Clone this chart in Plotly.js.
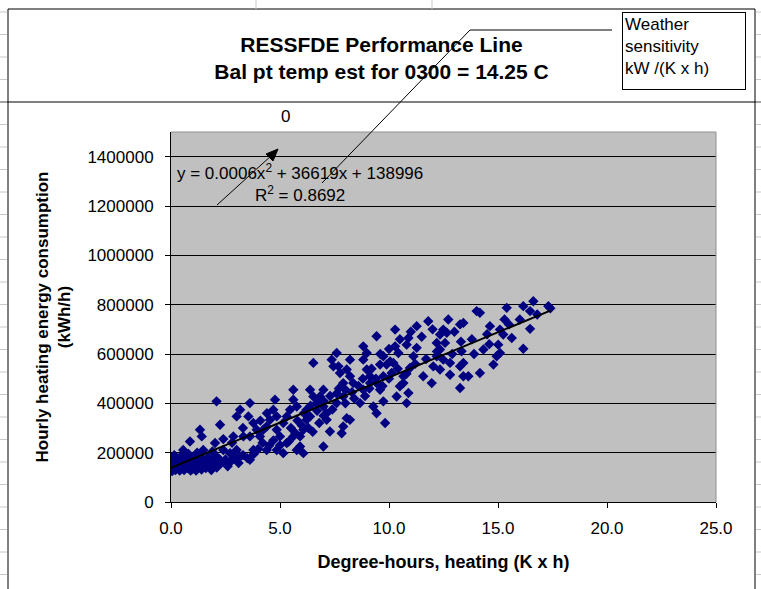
<!DOCTYPE html>
<html>
<head>
<meta charset="utf-8">
<script src="https://cdn.plot.ly/plotly-3.0.1.min.js"></script>
<style>html,body{margin:0;padding:0;background:#fff;}#chart{width:761px;height:589px;}</style>
</head>
<body>
<div id="chart"></div>
<script>
// ---- data ----
var degreeHours = [
16.62,16.16,17.31,16.47,15.40,16.47,16.16,15.63,15.09,15.24,14.63,14.02,14.17,15.01,14.94,14.79,15.09,14.17,14.33,13.41,
13.64,13.26,12.80,13.41,13.26,12.72,12.49,12.34,12.65,12.19,12.57,12.34,12.19,12.49,12.80,12.03,12.34,13.33,13.41,13.26,
11.80,11.96,11.57,11.27,10.89,10.81,11.27,11.12,10.96,10.66,10.66,10.89,10.81,10.28,10.28,10.43,10.20,10.12,10.50,10.35,
9.43,9.74,9.59,9.89,10.05,9.74,9.13,9.43,9.59,9.74,9.82,8.82,8.98,8.82,8.98,9.13,8.82,8.67,9.28,9.43,
8.21,8.06,8.21,8.36,7.90,7.75,7.90,7.60,8.21,7.90,8.06,7.83,7.60,7.37,7.45,7.68,6.53,6.99,6.83,6.68,
6.99,6.53,6.38,6.22,6.38,7.14,7.14,7.29,6.99,6.22,6.07,5.92,5.61,5.61,5.77,5.46,5.31,5.15,4.85,5.00,
5.31,5.61,5.92,6.07,5.77,4.77,4.69,4.85,4.54,4.39,4.08,4.23,3.62,3.55,3.78,3.93,3.62,3.78,3.62,4.39,
4.85,5.15,3.01,3.17,2.86,3.32,3.01,3.17,2.71,2.55,2.09,2.25,2.02,2.40,2.09,1.79,1.48,1.33,1.41,0.87,
0.56,1.02,0.72,
0.00,0.00,0.00,0.00,0.05,0.10,0.10,0.10,0.15,0.20,0.20,0.25,0.30,0.30,0.35,0.40,0.40,0.45,0.50,0.50,
0.55,0.60,0.65,0.70,0.75,0.80,0.85,0.90,0.90,1.00,1.00,1.05,1.10,1.15,1.20,1.25,1.30,1.35,1.40,1.50,
1.50,1.60,1.65,1.70,1.80,1.85,1.90,2.00,2.10,2.20,2.30,2.50,2.60,2.75,2.90,3.10,3.30,3.50,3.80,4.00,
4.20,4.50,4.70,5.00,5.40,5.70,6.00,6.30,6.50,6.80,7.00,7.40,7.60,8.00,8.40,8.80,9.20,9.60,10.00,10.50,
11.00,11.50,12.00,13.00,13.80,14.50,15.50,16.00,16.80,17.40,
5.50,5.80,6.10,6.40,6.70,7.00,7.30,7.70,8.00,8.30,8.60,8.90,9.10,9.40,9.70,10.00,10.40,10.80,11.20,11.70,
12.20,12.90,13.30,13.90,14.60,15.30,4.10,4.40,3.30,2.80,2.40,1.90,1.20,0.80
];
var energyUse = [
814000,794000,794000,774000,787000,702000,621000,665000,699000,679000,713000,774000,767000,638000,591000,557000,604000,523000,618000,510000,
510000,462000,516000,726000,720000,740000,699000,679000,686000,645000,645000,618000,591000,577000,564000,550000,537000,611000,564000,550000,
733000,482000,510000,713000,665000,638000,625000,591000,543000,510000,482000,442000,401000,699000,631000,604000,564000,523000,469000,428000,
672000,591000,557000,557000,570000,510000,510000,482000,455000,408000,320000,631000,604000,577000,537000,482000,455000,401000,387000,360000,
577000,537000,510000,482000,482000,523000,428000,401000,333000,306000,340000,279000,604000,577000,550000,550000,564000,455000,428000,401000,
387000,428000,455000,374000,347000,360000,333000,286000,225000,333000,293000,266000,455000,415000,387000,374000,347000,320000,293000,266000,
239000,266000,225000,198000,211000,415000,374000,347000,333000,306000,266000,293000,401000,347000,320000,293000,266000,211000,171000,211000,
211000,198000,347000,374000,266000,266000,211000,184000,198000,157000,408000,313000,239000,211000,184000,157000,211000,293000,266000,245000,
211000,184000,157000,
135000,150000,165000,180000,125000,142000,158000,172000,190000,130000,148000,162000,138000,176000,152000,128000,166000,185000,140000,155000,
172000,130000,148000,165000,138000,155000,180000,128000,146000,160000,135000,175000,150000,128000,165000,142000,185000,155000,132000,170000,
148000,138000,160000,182000,145000,130000,168000,152000,140000,175000,158000,172000,145000,165000,180000,158000,190000,178000,195000,215000,
240000,228000,250000,230000,245000,280000,310000,300000,285000,320000,350000,375000,440000,455000,420000,500000,540000,600000,620000,660000,
690000,670000,700000,690000,660000,680000,720000,740000,760000,785000,
300000,330000,360000,390000,370000,410000,430000,460000,400000,445000,470000,430000,460000,500000,470000,500000,540000,520000,560000,580000,
610000,600000,650000,600000,640000,740000,330000,360000,300000,240000,255000,205000,200000,195000
];
var trendX = [0.0, 17.4];
var trendY = [138996, 776000];
var xTickVals = [0, 5, 10, 15, 20, 25];
var yTickVals = [0, 200000, 400000, 600000, 800000, 1000000, 1200000, 1400000];
var chartTitle = "<b>RESSFDE Performance Line</b><br><b>Bal pt temp est for 0300 = 14.25 C</b>";
var xTitle = "<b>Degree-hours, heating (K x h)</b>";
var yTitle = "<b>Hourly heating energy consumption</b><br><b>(kWh/h)</b>";
var eqText = "y = 0.0006x<sup>2</sup> + 36619x + 138996<br>R<sup>2</sup> = 0.8692";
var boxText = "Weather<br>sensitivity<br>kW /(K x h)";

// ---- geometry helpers (pixel -> paper) ----
var L = 171, R = 716, T = 132, B = 502, W = R - L, H = B - T;
function px(x){ return (x - L) / W; }
function py(y){ return (B - y) / H; }
function line(x0,y0,x1,y1,color,width){
  return {type:'line', xref:'paper', yref:'paper', x0:px(x0), y0:py(y0), x1:px(x1), y1:py(y1),
          line:{color:color||'#000', width:width||1}};
}
function tri(pts){
  var d = pts.map(function(p,i){ return (i ? 'L' : 'M') + px(p[0]) + ',' + py(p[1]); }).join(' ') + ' Z';
  return {type:'path', xref:'paper', yref:'paper', path:d, fillcolor:'#000', line:{color:'#000', width:1}};
}
var FONT = "Liberation Sans, Arial, sans-serif";

var shapes = [
  line(8,9,8,589,'#000',1),
  line(8,9,755,9,'#000',1),
  line(755,9,755,589,'#000',1),
  line(0,102,761,102,'#000',1),
  line(256,0,256,9,'#c8c8c8',1),
  line(432,0,432,9,'#c8c8c8',1),
  line(171,132,716,132,'#909090',1),
  line(716,132,716,502,'#909090',1),
  line(612,30,470,30,'#000',1),
  line(470,30,322,183,'#000',1),
  line(217,205,272,155,'#000',1),
  tri([[278,149],[266,154],[273,161]])
];
for (var k = -4; k <= 21; k++) {
  var yy = 102 + 22.5 * k;
  shapes.push(line(0,yy,7,yy,'#c8c8c8',1));
  shapes.push(line(756,yy,761,yy,'#c8c8c8',1));
}

var traces = [
  {x: degreeHours, y: energyUse, type:'scatter', mode:'markers',
   marker:{symbol:'diamond', size:8, color:'#000080', line:{width:0}}, hoverinfo:'skip'},
  {x: trendX, y: trendY, type:'scatter', mode:'lines',
   line:{color:'#000', width:2}, hoverinfo:'skip'}
];

var layout = {
  width:761, height:589,
  margin:{l:L, r:761-R, t:T, b:589-B, pad:0},
  paper_bgcolor:'#fff', plot_bgcolor:'#c0c0c0',
  showlegend:false,
  font:{family:FONT, size:17, color:'#000'},
  title:{text:chartTitle, font:{family:FONT, size:21, color:'#000'},
         x:381.5/761, xref:'container', xanchor:'center',
         y:1-52/589, yref:'container', yanchor:'middle'},
  xaxis:{range:[0,25], tickvals:xTickVals, tickformat:'.1f', showgrid:false, zeroline:false,
         showline:true, linecolor:'#000', linewidth:1, ticks:'outside', ticklen:5, tickcolor:'#000',
         ticklabelstandoff:6,
         tickfont:{family:FONT, size:17}, fixedrange:true,
         title:{text:xTitle, font:{family:FONT, size:18}, standoff:17}},
  yaxis:{range:[0,1500000], tickvals:yTickVals, tickformat:'d', showgrid:true, gridcolor:'#000', gridwidth:1,
         zeroline:false, showline:true, linecolor:'#000', linewidth:1, ticks:'outside', ticklen:5, tickcolor:'#000',
         ticklabelstandoff:8,
         tickfont:{family:FONT, size:17}, fixedrange:true,
         title:{text:yTitle, font:{family:FONT, size:17}, standoff:12}},
  shapes: shapes,
  annotations:[
    {xref:'paper', yref:'paper', x:px(300), y:py(183), text:eqText, showarrow:false,
     xanchor:'center', yanchor:'middle', align:'center', font:{family:FONT, size:17, color:'#000'}},
    {xref:'paper', yref:'paper', x:px(285), y:py(117), text:'0', showarrow:false,
     xanchor:'center', yanchor:'middle', font:{family:FONT, size:17, color:'#000'}},
    {xref:'paper', yref:'paper', x:px(622), y:py(12), text:boxText, showarrow:false,
     xanchor:'left', yanchor:'top', align:'left', width:118, height:72, valign:'top',
     bordercolor:'#000', borderwidth:1, borderpad:2, bgcolor:'#fff',
     font:{family:FONT, size:17, color:'#000'}}
  ]
};

Plotly.newPlot('chart', traces, layout, {staticPlot:true, displayModeBar:false});
</script>
</body>
</html>
